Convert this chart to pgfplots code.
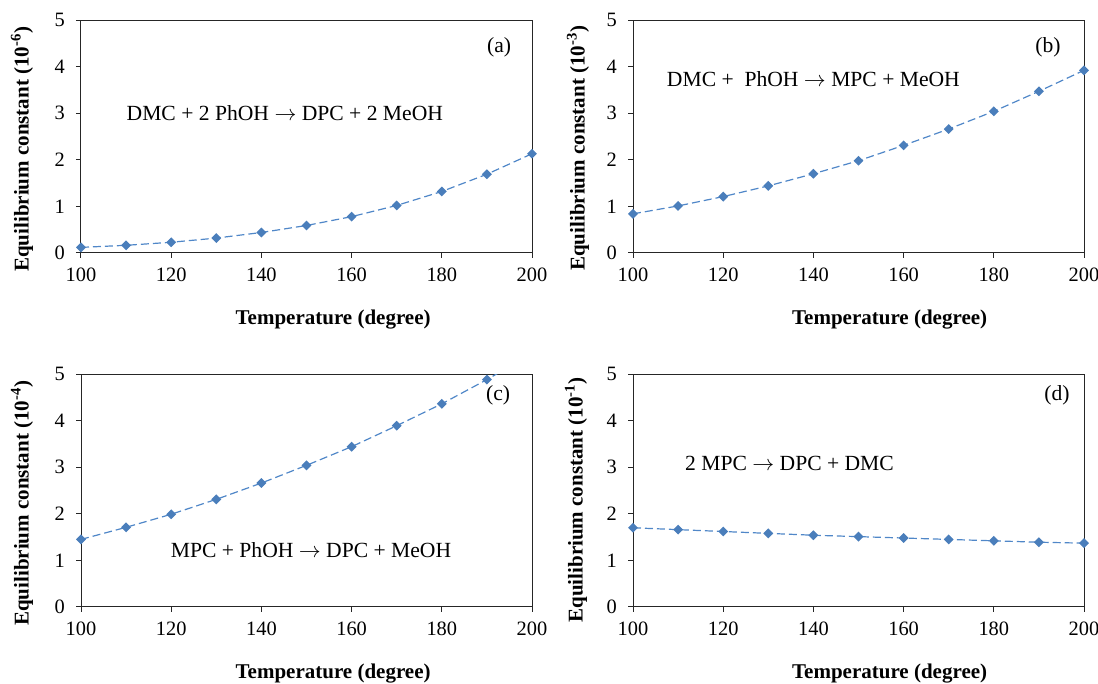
\documentclass[border=0pt]{standalone}
\usepackage{pgfplots}
\pgfplotsset{compat=1.18}
\usepackage{fontspec}
\setmainfont{Liberation Serif}
\definecolor{excelblue}{RGB}{74,126,187}
\definecolor{linecol}{RGB}{80,135,200}

\tikzset{ann/.style={font=\fontsize{10.8}{12}\selectfont}}
\pgfplotsset{
 panel/.style={
  scale only axis, width=225.5pt, height=116.5pt,
  xmin=100,xmax=200,ymin=0,ymax=5,
  xtick={100,120,...,200}, ytick={0,1,2,3,4,5},
  tick align=outside, tick pos=left, major tick length=2.5pt,
  axis line style={line width=0.5pt, black!85},
  tick style={black!85, line width=0.5pt},
  ticklabel style={font=\fontsize{10.2}{12}\selectfont},
  xticklabel style={yshift=-1.5pt},
  yticklabel style={xshift=-2pt},
  /pgf/number format/assume math mode=true,
  label style={font=\bfseries\fontsize{10.5}{12}\selectfont},
  clip=true,
 },
 series/.style={color=linecol, line width=0.6pt, dash pattern=on 4pt off 2pt,
   mark=square*, mark size=1.45pt, mark options={solid, rotate=45, fill=excelblue, draw=excelblue}},
}

\pgfplotstableread{
T K
100 0.12
110 0.165
120 0.23
130 0.32
140 0.44
150 0.59
160 0.78
170 1.02
180 1.32
190 1.69
200 2.13
}\dataA
\pgfplotstableread{
T K
100 0.84
110 1.01
120 1.21
130 1.44
140 1.70
150 1.98
160 2.31
170 2.66
180 3.04
190 3.47
200 3.92
}\dataB
\pgfplotstableread{
T K
100 1.45
110 1.71
120 1.99
130 2.31
140 2.66
150 3.04
160 3.44
170 3.89
180 4.36
190 4.88
200 5.44
}\dataC
\pgfplotstableread{
T K
100 1.70
110 1.66
120 1.62
130 1.58
140 1.54
150 1.51
160 1.48
170 1.45
180 1.42
190 1.39
200 1.37
}\dataD

\begin{document}
\begin{tikzpicture}
% (a)
\begin{axis}[panel, at={(40.5pt,215.5pt)}, anchor=south west,
  xlabel={Temperature (degree)},
  xlabel style={at={([yshift=-33.5pt]rel axis cs:0.559,0)}, anchor=center},
  ylabel={Equilibrium constant (10\textsuperscript{-6})},
  ylabel style={at={([xshift=-29.5pt]rel axis cs:0,0.446)}, anchor=center, rotate=0}]
\addplot[series] table[x=T,y=K] {\dataA};
\node[ann] at (rel axis cs:0.452,0.601) {DMC + 2 PhOH \ensuremath{\rightarrow} DPC + 2 MeOH};
\node[ann] at (rel axis cs:0.927,0.884) {(a)};
\end{axis}
% (b)
\begin{axis}[panel, at={(316.5pt,215.5pt)}, anchor=south west,
  xlabel={Temperature (degree)},
  xlabel style={at={([yshift=-33.5pt]rel axis cs:0.569,0)}, anchor=center},
  ylabel={Equilibrium constant (10\textsuperscript{-3})},
  ylabel style={at={([xshift=-27.5pt]rel axis cs:0,0.45)}, anchor=center, rotate=0}]
\addplot[series] table[x=T,y=K] {\dataB};
\node[ann] at (rel axis cs:0.40,0.747) {DMC +\ \ PhOH \ensuremath{\rightarrow} MPC + MeOH};
\node[ann] at (rel axis cs:0.92,0.884) {(b)};
\end{axis}
% (c)
\begin{axis}[panel, at={(40.5pt,38.5pt)}, anchor=south west,
  xlabel={Temperature (degree)},
  xlabel style={at={([yshift=-33.5pt]rel axis cs:0.559,0)}, anchor=center},
  ylabel={Equilibrium constant (10\textsuperscript{-4})},
  ylabel style={at={([xshift=-29.5pt]rel axis cs:0,0.446)}, anchor=center, rotate=0}]
\addplot[series] table[x=T,y=K] {\dataC};
\node[ann] at (rel axis cs:0.51,0.245) {MPC + PhOH \ensuremath{\rightarrow} DPC + MeOH};
\node[ann] at (rel axis cs:0.925,0.91) {(c)};
\end{axis}
% (d)
\begin{axis}[panel, at={(316.5pt,38.5pt)}, anchor=south west,
  xlabel={Temperature (degree)},
  xlabel style={at={([yshift=-33.5pt]rel axis cs:0.569,0)}, anchor=center},
  ylabel={Equilibrium constant (10\textsuperscript{-1})},
  ylabel style={at={([xshift=-28.5pt]rel axis cs:0,0.46)}, anchor=center, rotate=0}]
\addplot[series] table[x=T,y=K] {\dataD};
\node[ann] at (rel axis cs:0.347,0.618) {2 MPC \ensuremath{\rightarrow} DPC + DMC};
\node[ann] at (rel axis cs:0.94,0.91) {(d)};
\end{axis}
\pgfresetboundingbox
\path[use as bounding box] (0,0) rectangle (549pt,342pt);
\end{tikzpicture}
\end{document}
